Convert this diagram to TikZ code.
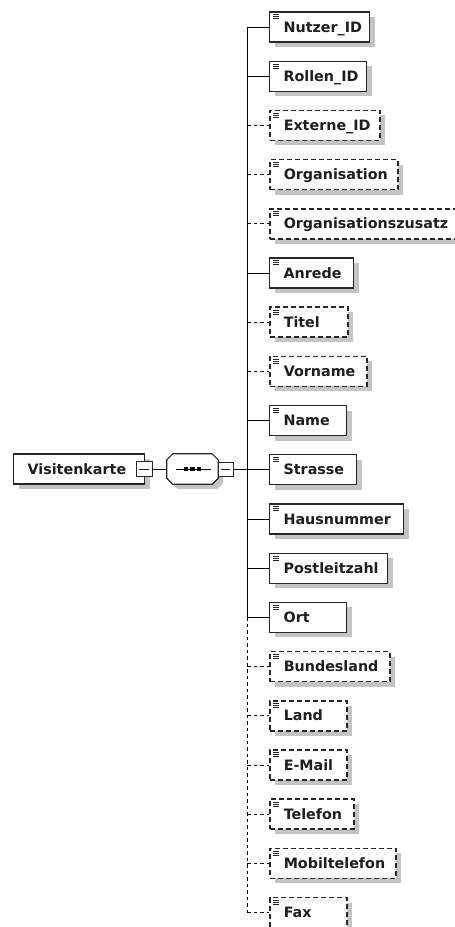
\documentclass[tikz,border=0pt]{standalone}
\usepackage{fontspec}
\setmainfont{DejaVu Sans}
\usetikzlibrary{shadows}
\definecolor{shadowc}{RGB}{196,196,196}
\definecolor{boxline}{RGB}{38,38,38}
\definecolor{txt}{RGB}{30,30,30}
\begin{document}
\begin{tikzpicture}[x=1pt,y=-1pt,
  every node/.style={font=\fontsize{14.3}{16}\selectfont\bfseries, text=txt},
  conn/.style={line width=1pt, black},
  dconn/.style={conn, dash pattern=on 3.5pt off 3pt},
  icon/.style={solid, line width=0.8pt, boxline},
  shad/.style={general shadow={fill=shadowc, shadow xshift=5pt, shadow yshift=-5pt}},
  elbase/.style={draw=boxline, line width=1.2pt, fill=white, anchor=west,
    inner xsep=0pt, inner ysep=0pt, minimum height=30pt,
    text height=12pt, text depth=2pt, align=left, shad,
    path picture={
      \draw[icon] ([xshift=3pt,yshift=-2.8pt]path picture bounding box.north west) -- ++(6,0);
      \draw[icon] ([xshift=3pt,yshift=-4.8pt]path picture bounding box.north west) -- ++(6,0);
      \draw[icon] ([xshift=3pt,yshift=-6.8pt]path picture bounding box.north west) -- ++(6,0);
    }},
  elsolid/.style={elbase, text width=#1},
  eldash/.style={elbase, text width=#1, line width=1.5pt, dash pattern=on 5pt off 3pt},
  minusbox/.style={draw=boxline, fill=white, line width=1pt, minimum width=16pt,
    minimum height=15pt, inner sep=0pt,
    path picture={\draw[solid, line width=0.9pt, boxline]
      ([xshift=3pt]path picture bounding box.west) -- ([xshift=-3pt]path picture bounding box.east);}},
]
\useasboundingbox (0,0) rectangle (455,927);
\clip (0,0) rectangle (455,927);

% root element
\node[draw=boxline, line width=1.2pt, fill=white, anchor=west,
  inner xsep=0pt, inner ysep=0pt, minimum height=30pt,
  text height=12pt, text depth=2pt, align=left, text width=131pt, shad]
  (vk) at (13,469) {\hspace*{14pt}Visitenkarte};
\node[minusbox] (vkm) at (144,469) {};

% sequence compositor
\node[minimum width=51pt, minimum height=30pt, inner sep=0pt] (seq) at (192.5,469) {};
\draw[boxline, line width=1.2pt, fill=white, shad]
  ([xshift=6pt]seq.north west) -- ([xshift=-6pt]seq.north east)
  -- ([yshift=-6pt]seq.north east) -- ([yshift=6pt]seq.south east)
  -- ([xshift=-6pt]seq.south east) -- ([xshift=6pt]seq.south west)
  -- ([yshift=6pt]seq.south west) -- ([yshift=-6pt]seq.north west) -- cycle;
\draw[conn] ([xshift=-17pt]seq.center) -- ([xshift=18pt]seq.center);
\fill[black] ([xshift=-6.5pt]seq.center) ++(-2.2,-2.2) rectangle ++(4.4,4.4);
\fill[black] (seq.center) ++(-2.2,-2.2) rectangle ++(4.4,4.4);
\fill[black] ([xshift=6.5pt]seq.center) ++(-2.2,-2.2) rectangle ++(4.4,4.4);
\node[minusbox, minimum width=15pt, minimum height=14pt] (sqm) at (225.5,469) {};

\coordinate (sp) at (247,27);

% child elements
\node[elsolid=100pt] (e0)  at (269,27)    {\hspace*{14pt}Nutzer\_ID};
\node[elsolid=97pt]  (e1)  at (269,76.2)  {\hspace*{14pt}Rollen\_ID};
\node[eldash=110pt]  (e2)  at (269,125.4) {\hspace*{14pt}Externe\_ID};
\node[eldash=128pt]  (e3)  at (269,174.6) {\hspace*{14pt}Organisation};
\node[eldash=195pt]  (e4)  at (269,223.8) {\hspace*{14pt}Organisationszusatz};
\node[elsolid=84pt]  (e5)  at (269,273)   {\hspace*{14pt}Anrede};
\node[eldash=78pt]   (e6)  at (269,322.2) {\hspace*{14pt}Titel};
\node[eldash=97pt]   (e7)  at (269,371.4) {\hspace*{14pt}Vorname};
\node[elsolid=77pt]  (e8)  at (269,420.6) {\hspace*{14pt}Name};
\node[elsolid=87pt]  (e9)  at (269,469.8) {\hspace*{14pt}Strasse};
\node[elsolid=134pt] (e10) at (269,519)   {\hspace*{14pt}Hausnummer};
\node[elsolid=118pt] (e11) at (269,568.2) {\hspace*{14pt}Postleitzahl};
\node[elsolid=77pt]  (e12) at (269,617.4) {\hspace*{14pt}Ort};
\node[eldash=120pt]  (e13) at (269,666.6) {\hspace*{14pt}Bundesland};
\node[eldash=77pt]   (e14) at (269,715.8) {\hspace*{14pt}Land};
\node[eldash=77pt]   (e15) at (269,765)   {\hspace*{14pt}E-Mail};
\node[eldash=84pt]   (e16) at (269,814.2) {\hspace*{14pt}Telefon};
\node[eldash=126pt]  (e17) at (269,863.4) {\hspace*{14pt}Mobiltelefon};
\node[eldash=77pt]   (e18) at (269,912.6) {\hspace*{14pt}Fax};

% connectors
\draw[conn] (vkm.east) -- (seq.west);
\draw[conn] (sqm.east) -- (sqm.east -| sp);
\draw[conn] (e0.west -| sp) -- (e12.west -| sp);
\draw[dconn] (e12.west -| sp) -- (e18.west -| sp);
\foreach \k in {0,1,5,8,9,10,11,12}
  \draw[conn] (e\k.west -| sp) -- (e\k.west);
\foreach \k in {2,3,4,6,7,13,14,15,16,17,18}
  \draw[dconn] (e\k.west -| sp) -- (e\k.west);
\end{tikzpicture}
\end{document}
